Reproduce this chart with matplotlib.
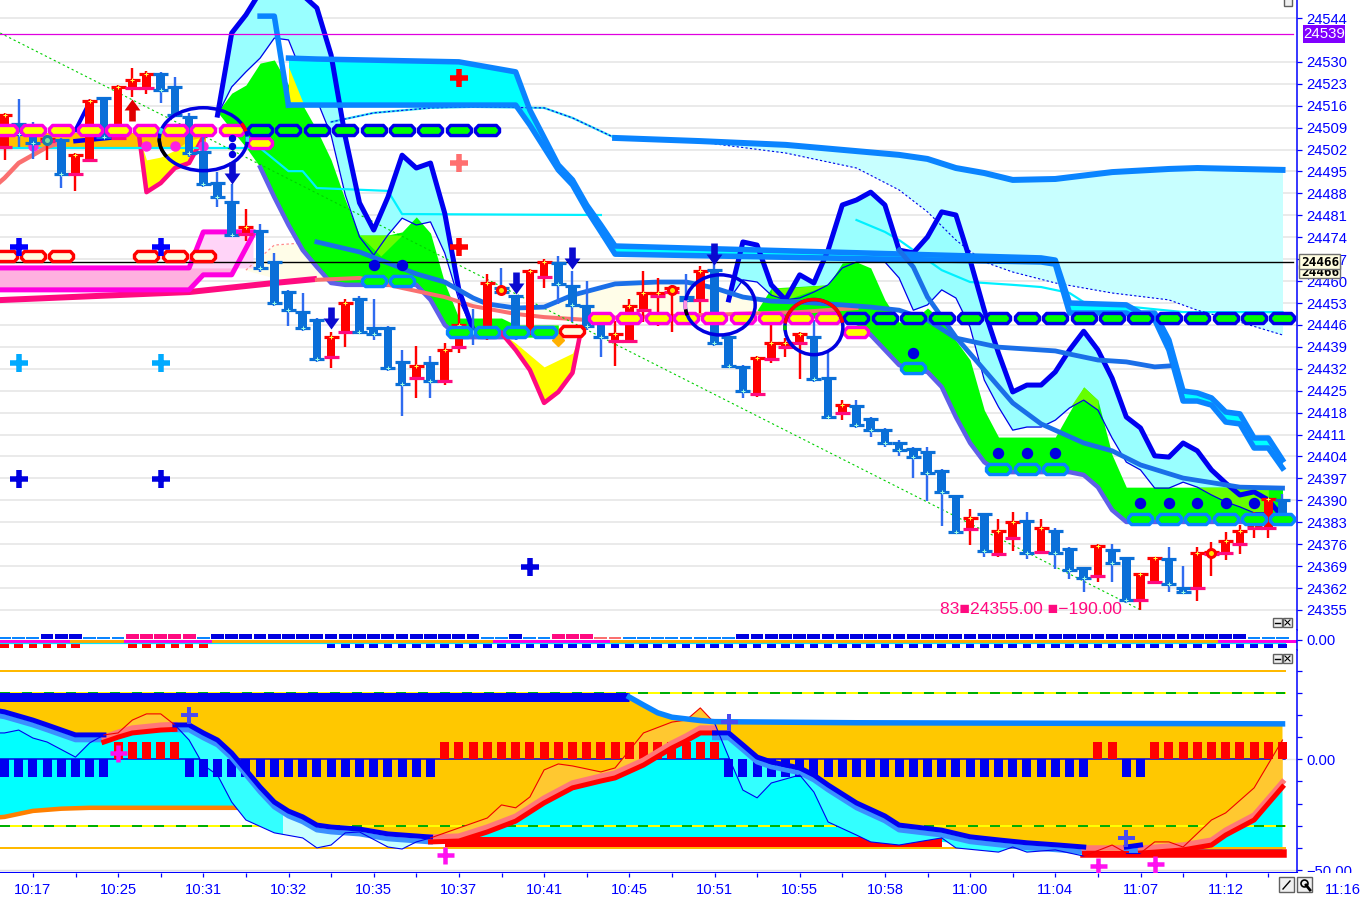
import numpy as np
import matplotlib
matplotlib.use("Agg")
import matplotlib.pyplot as plt
from matplotlib.path import Path
from matplotlib.patches import Ellipse, Rectangle, Arc

# ---------------- data ----------------
BODY_TOP = [24513.1,24510.2,24508.3,24505.4,24505.1,24500.3,24517.6,24518.5,24522.0,24524.3,24526.2,24526.2,24522.0,24512.4,24501.3,24491.4,24485.3,24477.3,24476.0,24466.1,24456.6,24450.2,24447.6,24442.2,24453.1,24454.3,24445.1,24445.1,24434.2,24432.9,24433.9,24438.0,24446.0,24444.8,24459.4,24457.8,24455.3,24463.3,24466.1,24465.8,24458.5,24452.1,24447.9,24443.2,24452.1,24456.2,24456.2,24457.8,24455.0,24463.3,24463.6,24442.2,24432.6,24435.5,24440.3,24440.3,24443.2,24442.2,24429.1,24420.5,24420.2,24416.0,24412.5,24408.3,24406.4,24405.4,24399.4,24391.4,24384.4,24385.7,24380.2,24383.1,24383.4,24381.2,24380.2,24374.5,24368.4,24375.4,24374.2,24371.6,24366.5,24371.6,24371.3,24362.1,24373.2,24373.5,24377.0,24380.2,24382.1,24390.5,24390.2]
BODY_BOT = [24502.9,24507.0,24504.1,24504.8,24494.2,24494.2,24498.7,24506.1,24505.7,24521.7,24521.7,24521.1,24513.1,24500.9,24491.0,24486.9,24474.8,24475.1,24464.2,24453.1,24450.8,24445.1,24435.2,24435.8,24443.8,24443.8,24443.2,24432.3,24427.2,24429.1,24428.1,24428.1,24439.0,24443.8,24442.2,24456.6,24445.1,24443.8,24461.4,24459.1,24452.4,24445.7,24442.2,24440.9,24440.9,24450.8,24455.3,24456.6,24454.0,24454.0,24440.3,24432.9,24424.9,24424.0,24435.2,24439.0,24440.3,24428.8,24416.7,24417.9,24414.1,24412.5,24408.3,24406.1,24403.9,24398.7,24392.7,24379.9,24380.9,24373.8,24372.9,24378.0,24373.2,24373.5,24373.2,24367.8,24365.2,24365.9,24370.0,24358.2,24358.2,24364.0,24363.3,24360.8,24362.1,24372.9,24373.2,24376.1,24381.2,24381.2,24384.7]
WICK_TOP = [24513.7,24518.2,24510.8,24506.7,24505.7,24500.9,24518.2,24518.8,24522.7,24528.1,24527.1,24526.8,24525.2,24513.7,24506.7,24494.9,24491.0,24483.1,24478.3,24469.0,24457.2,24456.2,24448.3,24443.8,24454.3,24455.3,24454.3,24445.7,24438.0,24439.3,24436.1,24440.3,24453.1,24451.1,24462.3,24464.2,24455.3,24463.9,24467.1,24468.1,24463.3,24460.1,24448.6,24447.3,24454.3,24463.3,24461.0,24458.8,24462.3,24464.9,24471.6,24442.8,24433.3,24436.1,24447.3,24441.9,24443.8,24447.6,24437.7,24422.1,24422.1,24416.7,24413.1,24409.3,24407.1,24407.1,24400.0,24391.7,24387.3,24386.0,24384.0,24386.3,24386.3,24384.0,24381.2,24375.1,24368.8,24376.0,24376.0,24371.9,24366.8,24371.9,24375.1,24369.0,24375.1,24376.7,24379.9,24382.1,24386.3,24390.8,24392.0]
WICK_BOT = [24498.7,24502.9,24499.0,24498.7,24489.8,24488.8,24498.1,24505.7,24505.4,24518.8,24519.8,24516.9,24512.4,24499.7,24490.1,24483.7,24474.1,24472.8,24462.9,24452.1,24445.7,24444.1,24434.2,24432.3,24439.0,24443.2,24441.2,24431.3,24417.0,24422.7,24422.7,24426.9,24437.1,24439.6,24441.2,24455.6,24441.2,24442.8,24457.8,24452.7,24447.0,24444.4,24435.8,24432.9,24440.3,24447.0,24445.7,24443.8,24450.2,24449.8,24439.3,24432.3,24422.7,24423.0,24433.9,24435.8,24428.8,24427.8,24416.3,24415.7,24413.1,24410.2,24407.1,24404.2,24397.1,24389.8,24381.8,24379.3,24375.8,24371.9,24371.9,24373.8,24371.3,24372.9,24368.1,24364.9,24360.8,24364.0,24364.0,24357.2,24355.0,24363.3,24360.8,24360.1,24357.9,24365.9,24371.0,24372.9,24378.0,24378.0,24382.8]
RED_BARS = [0,3,5,6,8,9,10,17,23,24,29,31,32,34,37,38,43,44,45,46,47,49,53,54,55,56,59,68,70,71,73,77,80,81,84,85,86,87,88,89]
RING_BARS = [3,35,47,85]
RING_PRICE = [24505.1,24457.2,24457.2,24373.2]
PRICE_TICKS = [24355,24362,24369,24376,24383,24390,24397,24404,24411,24418,24425,24432,24439,24446,24453,24460,24467,24474,24481,24488,24495,24502,24509,24516,24523,24530,24544]

CLOUD1_BARS = [15,16,17,18,19,20,21,22,23,24,25,26,27,28,29,30,31,32,33]
CLOUD1_HI = [24513.0,24539.2,24545.0,24552.3,24557.7,24559.3,24551.3,24547.2,24532.2,24506.0,24485.0,24476.3,24486.8,24500.2,24496.1,24497.7,24481.7,24457.2,24444.4]
CLOUD1_LO = [24513.0,24522.0,24526.8,24531.2,24537.6,24537.0,24525.8,24517.8,24506.6,24487.5,24474.1,24468.3,24474.7,24480.1,24477.9,24478.9,24469.0,24454.0,24444.4]
CLOUD2_BARS = list(range(51,91))
CLOUD2_HI = [24454.0,24472.5,24471.5,24458.8,24454.0,24462.0,24459.4,24469.9,24484.3,24485.9,24488.4,24484.3,24469.9,24469.0,24474.1,24482.1,24481.1,24466.7,24450.7,24437.0,24424.6,24426.8,24426.8,24431.0,24438.0,24444.0,24438.0,24429.0,24416.6,24413.1,24404.2,24403.8,24408.3,24405.8,24399.7,24395.5,24391.7,24392.7,24390.1,24384.7]
CLOUD2_LO = [24454.0,24460.4,24459.7,24455.5,24454.0,24454.6,24456.5,24458.8,24464.2,24466.1,24466.1,24466.1,24461.0,24450.7,24452.4,24457.2,24454.6,24445.3,24428.4,24419.8,24412.4,24413.4,24413.4,24415.6,24419.5,24422.0,24418.8,24409.9,24402.2,24399.7,24393.9,24393.9,24395.8,24394.2,24391.7,24389.5,24387.9,24386.0,24386.0,24384.7]

GREEN1_BARS = [15,16,17,18,19,20,21,22,23,24,25,26,27,28,29,30,31,32,33,35,36,39]
GREEN1_HI = [24514.0,24520.0,24522.6,24529.6,24530.6,24522.6,24516.2,24508.2,24498.7,24485.9,24474.7,24474.7,24474.7,24475.7,24480.5,24475.3,24459.4,24448.2,24448.2,24448.2,24446.0,24446.0]
GREEN1_LO = [24514.0,24508.2,24502.8,24496.4,24486.8,24477.9,24469.9,24464.5,24459.4,24458.8,24458.8,24458.8,24458.8,24458.8,24458.8,24454.0,24446.0,24442.1,24442.1,24442.1,24442.1,24442.1]
GREEN2_BARS = [53,54,58,59,60,61,62,63,64,65,66,67,68,69,70,74,75,76,77,78,79,90]
GREEN2_HI = [24450.7,24457.8,24458.8,24465.8,24466.1,24464.2,24454.0,24446.9,24447.6,24451.4,24447.6,24441.0,24434.8,24418.8,24410.2,24410.2,24418.2,24426.2,24422.0,24404.5,24394.2,24394.2]
GREEN2_LO = [24450.7,24448.2,24448.2,24447.6,24446.0,24442.8,24438.0,24433.2,24431.6,24431.0,24426.2,24416.6,24408.3,24402.2,24399.0,24399.0,24399.0,24398.1,24394.2,24386.9,24383.1,24383.1]

BAND_UP_BARS = [18,19,20,22,32,34,36,37,39,40,41,42,43,73,74,75,79,80,81,82,83,84,85,86,87,88,89,90]
BAND_UP = [24544.6,24544.6,24531.2,24530.9,24530.0,24528.4,24526.8,24514.6,24497.1,24492.3,24484.3,24477.9,24471.2,24467.4,24466.7,24453.0,24452.4,24449.8,24449.8,24441.2,24424.9,24424.3,24422.7,24418.2,24417.6,24409.9,24409.9,24402.9]
BAND_LO = [24544.6,24544.6,24516.2,24516.2,24516.2,24516.2,24516.2,24509.8,24495.5,24490.7,24482.7,24475.7,24468.6,24466.1,24465.4,24449.8,24449.8,24447.6,24447.6,24438.0,24421.7,24421.7,24420.4,24415.0,24414.4,24406.7,24406.7,24400.3]

MA1_BARS = [22,25,27,29,31,33,34,36,38,40,43,46,48,50,52,54,56,59,61,63,65,67,70,74,75,77,79,81,82]
MA1 = [24472.5,24469.3,24465.8,24462.3,24459.7,24454.6,24452.7,24451.4,24451.7,24455.5,24459.1,24459.7,24459.7,24457.8,24454.9,24453.6,24453.3,24452.4,24451.7,24450.7,24447.6,24441.8,24438.9,24437.7,24436.7,24434.8,24434.2,24432.6,24432.9]
MA2_BARS = [63,64,65,67,69,71,73,76,78,80,83,87,90]
MA2 = [24469.9,24464.5,24454.9,24442.1,24431.6,24421.1,24414.4,24408.3,24405.8,24401.3,24397.1,24394.2,24393.9]
SALMON_A_BARS = [-1,0,1,3,4]
SALMON_A = [24489.0,24492.9,24497.7,24502.8,24504.4]
SALMON_B_BARS = [22,25,28,31,33,36,38,41,42,56,60]
SALMON_B = [24460.4,24461.0,24457.8,24454.9,24452.0,24449.5,24448.5,24447.6,24448.2,24450.1,24451.4]
HOTPINK_BARS = [-1,13,19,22]
HOTPINK = [24453.8,24456.5,24459.4,24460.7]
MAG_BARS = [-1,13,14,16,17.5]
MAG_HI = [24464.2,24464.2,24475.7,24475.7,24475.7]
MAG_LO = [24457.2,24457.2,24462.0,24462.0,24474.7]
PALE_MAG_BARS = [13,14,17.5]
PALE_MAG_HI = [24464.2,24475.7,24475.7]
PALE_MAG_LO = [24464.2,24464.2,24464.2]
CYAN_A_BARS = [-1,18,20,21,22,27,28,42]
CYAN_A = [24502.5,24502.5,24495.1,24495.1,24489.7,24488.8,24481.4,24481.1]
CYAN_B_BARS = [60,62,63,66,68,71,73,75,76,83,90]
CYAN_B = [24479.5,24475.7,24473.1,24463.5,24459.7,24458.8,24458.1,24456.2,24453.3,24450.1,24450.1]
DOT_BARS = [23,26,30,33,38,40,43,49,55,60,63,65,67,69,71,74,78,82,84,87,90]
DOT_LINE = [24510.8,24513.7,24515.3,24515.6,24515.3,24512.1,24505.7,24504.4,24500.9,24496.1,24489.1,24482.1,24473.1,24466.1,24462.9,24459.4,24456.2,24454.0,24450.7,24446.9,24442.8]
TOP_BARS = [43,49,55,60,63,65,67,69,71,74,78,82,84,87,90]
TOP_LINE = [24505.7,24504.7,24503.5,24501.5,24500.3,24499.0,24496.1,24494.5,24492.3,24492.6,24494.8,24495.8,24496.1,24495.8,24495.5]
TREND_BARS = [-0.3,80]
TREND = [24539.2,24355.0]
IVORY1_BARS = [17,19,22,24]
IVORY1_HI = [24463.5,24471.5,24472.5,24462.0]
IVORY1_LO = [24463.5,24461.0,24460.4,24460.4]
IVORY2_BARS = [33,36,38,40,43,46,48,50,52,54,56,58]
IVORY2_HI = [24454.6,24451.4,24451.7,24455.5,24459.1,24459.7,24459.7,24457.8,24454.9,24453.6,24453.3,24452.6]
IVORY2_LO = [24454.0,24449.5,24448.5,24447.6,24447.6,24447.6,24447.8,24448.0,24448.2,24449.0,24450.1,24450.5]
YEL1_BARS = [9.5,10,11,12,13,14]
YEL1_HI = [24505.7,24498.7,24499.6,24501.8,24505.0,24506.0]
YEL1_LO = [24505.7,24488.4,24491.3,24496.1,24497.7,24506.0]
YEL2_BARS = [35,36,37,38,39,40,40.5]
YEL2_HI = [24443.4,24440.2,24436.4,24432.6,24434.8,24437.0,24442.1]
YEL2_LO = [24443.4,24438.0,24431.6,24421.1,24424.6,24430.7,24442.1]
YEL3_BARS = [20,21]
YEL3_HI = [24528.4,24517.2]
YEL3_LO = [24517.2,24517.2]
LIME_A_BARS = [25,26.5,28]
LIME_A_HI = [24474.7,24474.7,24474.7]
LIME_A_LO = [24474.7,24468.0,24474.7]
LIME_B_BARS = [54,55,58]
LIME_B_HI = [24457.8,24457.8,24458.8]
LIME_B_LO = [24455.5,24454.0,24458.8]
LIME_C_BARS = [75,76,77]
LIME_C_HI = [24419.5,24426.2,24422.0]
LIME_C_LO = [24419.5,24422.0,24418.8]
LIME_D_BARS = [84,85,87,88,89]
LIME_D_HI = [24394.2,24394.2,24394.2,24394.2,24394.2]
LIME_D_LO = [24394.2,24391.7,24387.9,24386.0,24386.0]

PILL_YM_BARS = [0,2,4,6,8,10,12,14,16,18,42,44,46,48,50,52,54,56,58,60]
PILL_YM_PRICE = [24508.2,24508.2,24508.2,24508.2,24508.2,24508.2,24508.2,24508.2,24508.2,24504.1,24448.2,24448.2,24448.2,24448.2,24448.2,24448.2,24448.2,24448.2,24448.2,24443.7]
PILL_DG_BARS = [18,20,22,24,26,28,30,32,34,60,62,64,66,68,70,72,74,76,78,80,82,84,86,88,90]
PILL_DG_PRICE = [24508.2]*9 + [24448.2]*16
PILL_LG_BARS = [26,28,32,34,36,38,64,70,72,74,80,82,84,86,88,90]
PILL_LG_PRICE = [24460.0,24460.0,24443.7,24443.7,24443.7,24443.7,24432.2,24400.0,24400.0,24400.0,24384.0,24384.0,24384.0,24384.0,24384.0,24384.0]
PILL_RI_BARS = [0,2,4,10,12,14,40]
PILL_RI_PRICE = [24468.0,24468.0,24468.0,24468.0,24468.0,24468.0,24444.0]
DOT_BL_BARS = [26,28,64,70,72,74,80,82,84,86,88]
DOT_BL_PRICE = [24465.1,24465.1,24437.0,24405.1,24405.1,24405.1,24389.1,24389.1,24389.1,24389.1,24389.1]
DOT_SM_BARS = [16,16,16]
DOT_SM_PRICE = [24505.7,24503.1,24500.6]
DOT_MG_BARS = [2,10,12,14]
DOT_MG_PRICE = [24503.1,24503.1,24503.1,24503.1]
ARROW_DN_BARS = [16,23,36,40,50]
ARROW_DN_PRICE = [24494.5,24448.2,24459.4,24467.4,24468.6]
PLUS = [(1,24470.9,'#0000ff'),(11,24470.9,'#0000ff'),(1,24433.8,'#00aaff'),(11,24433.8,'#00aaff'),
        (1,24396.8,'#0000e0'),(11,24396.8,'#0000e0'),(37,24368.7,'#0000e0'),
        (32,24524.8,'#ff0000'),(32,24497.7,'#ff7070'),(32,24470.9,'#ff0000')]

# indicator panel 1 (colour strip), one entry per bar
STRIP_DARK = [3,4,5]+list(range(15,34))+[36]+list(range(52,88))
STRIP_LIGHT = [0,1,2,6,7,8,14,34,35,37,38]+list(range(44,52))+[88,89,90]
STRIP_PINK = [9,10,11,12,13,39,40,41]
STRIP_SALMON = [42,43]
DASH_RED = [0,1,2,3,4,5,9,10,11,12,13,14]
DASH_BLUE = list(range(23,91))
MID_MAGENTA = [(-1,4.5),(8.5,14.5),(34.5,42.5),(85.5,91)]

# indicator panel 2
HIST = [-8]*8+[8]*5+[-8]*18+[8]*20+[-8]*26+[8]*2+[-8]*2+[8]*10
HIST_TICKS = [-50,-40,-30,-20,-10,0,10,20,30,40]
HTOP_BARS = [-1,44,45,46,47,49,50,60,90]
HTOP = [28.1,28.1,24.5,21.0,19.0,17.5,17.0,16.5,16.0]
K_PIECES = [
 ('b',[-1,0,2,3,5,7],[22.5,21.4,17.7,15.5,11.0,11.0],[-1,0,1,2,3,5,6,7],[11.9,11.9,13.2,9.6,7.8,1.0,7.4,11.0]),
 ('r',[7,8,9,11,12],[7.8,10.0,11.9,13.2,13.5],[7,8,9,10,11,12],[11.0,11.9,17.7,20.5,20.5,15.5]),
 ('b',[12,13,14,15,16,17,18,19,20,21,22,23,25,27,30],[15.5,15.5,11.9,8.7,2.8,-4.8,-12.5,-19.3,-23.4,-26.0,-29.7,-30.6,-31.5,-33.7,-35.1],[12,13,14,15,16,17,19,21,22,23,24,25,27,28,29,30],[15.5,8.7,-2.6,-7.1,-19.3,-27.4,-33.2,-35.5,-40.0,-38.7,-33.2,-32.8,-39.6,-40.5,-37.3,-35.5]),
 ('r',[30,32,34,36,38,40,42,43,45,47,48,49,50],[-37.3,-36.9,-32.8,-27.9,-19.7,-12.9,-9.8,-8.4,-2.6,5.1,8.3,11.9,11.9],[30,32,34,35,36,37,38,39,40,42,43,45,47,48,49,50],[-35.5,-31.0,-26.5,-20.6,-21.9,-17.0,-4.8,-2.1,-3.0,-5.7,-3.9,11.9,16.8,17.7,23.2,16.4]),
 ('b',[50,51,52,53,54,56,57,58,60,62,63,66,68,70,72,74,76],[11.9,11.9,6.5,1.0,-1.2,-3.9,-7.1,-11.6,-19.7,-25.6,-29.7,-32.0,-35.0,-36.4,-37.7,-38.6,-39.6],[50,51,52,53,54,56,57,58,60,61,63,66,67,70,71,72,74,76],[16.4,1.0,-13.9,-17.4,-10.7,-7.1,-14.8,-28.3,-34.2,-37.3,-38.7,-35.5,-40.0,-41.9,-39.6,-41.9,-40.9,-43.7]),
 ('r',[76,78,79],[-42.3,-42.3,-42.3],[76,78,79],[-43.7,-38.7,-42.3]),
 ('b',[79,80],[-39.6,-38.7],[79,80],[-42.3,-42.3]),
 ('r',[80,81,83,85,86,88,90],[-42.3,-41.9,-40.9,-38.7,-34.2,-27.4,-12.5],[80,81,82,83,85,86,88,90],[-42.3,-37.3,-37.3,-39.6,-27.4,-24.2,-12.9,8.7]),
]
HLOW_BARS = [-1,0,2,4,6,19,20,22,30,66,76,90]
HLOW = [-26.5,-26.0,-23.3,-22.3,-21.9,-21.9,-25.1,-29.7,-37.3,-37.3,-42.3,-42.3]
ORANGE_BARS = [-1,0,2,4,6,19,20]
ORANGE_VAL = [-26.5,-26.0,-23.3,-22.3,-21.9,-21.9,-25.1]
HPLUS_BLUE = [(13,20.0),(51,16.8),(79,-35.5)]
HPLUS_MAG = [(8,2.8),(31,-43.2),(77,-48.2),(81,-47.3)]
TIME_BARS = [2,8,14,20,26,32,38,44,50,56,62,68,74,80,86]
TIME_LABELS = ['10:17','10:25','10:31','10:32','10:35','10:37','10:41','10:45','10:51','10:55','10:58','11:00','11:04','11:07','11:12']

# ---------------- layout ----------------
W, H = 1369, 902
PX = 0.72
C_BLUE = '#0a6fd8'; C_BAND = '#0a84ff'; C_DARK = '#0000f0'; C_MA = '#1a6fe8'; C_PINK = '#ff0a80'
FONT = ['Liberation Sans', 'DejaVu Sans']
plt.rcParams['font.family'] = FONT
fig = plt.figure(figsize=(W/100, H/100), dpi=100, facecolor='white')

def axpx(x0, y0, x1, y1, **kw):
    return fig.add_axes([x0/W, 1-y1/H, (x1-x0)/W, (y1-y0)/H], **kw)

BAR_X0, BAR_DX = 4.5, 14.2
XLIM = (-BAR_X0/BAR_DX, (1297-BAR_X0)/BAR_DX)

def style_right(ax):
    for s in ('top', 'left', 'bottom'):
        ax.spines[s].set_visible(False)
    ax.spines['right'].set_color('#0000ff')
    ax.spines['right'].set_linewidth(1.1)
    ax.yaxis.tick_right()
    ax.tick_params(axis='y', colors='#0000ff', labelcolor='#0000ff', length=5*PX, width=0.9, pad=3, labelsize=10.6)
    ax.set_xticks([])
    ax.set_xlim(*XLIM)

# ---------- main price panel ----------
ax = axpx(0, 0, 1297, 630)
style_right(ax)
ax.set_ylim(24549.75-0.3193*630, 24549.75)
ax.set_yticks(PRICE_TICKS)
ax.set_yticklabels([str(t) for t in PRICE_TICKS])
ax.hlines(PRICE_TICKS, XLIM[0], XLIM[1], color='#e8e8e8', lw=1.3, zorder=1)

def band(bars, hi, lo, color, z, **kw):
    ax.fill_between(bars, hi, lo, color=color, lw=0, zorder=z, **kw)

band(TOP_BARS, TOP_LINE, DOT_LINE[6:], '#c8ffff', 2)
band(IVORY1_BARS, IVORY1_HI, IVORY1_LO, '#fffde8', 2)
band(IVORY2_BARS, IVORY2_HI, IVORY2_LO, '#fffde8', 2)
ax.plot(IVORY1_BARS[:3], IVORY1_HI[:3], color='#ff8a8a', lw=0.9, ls=(0,(2,2)), zorder=2.1)
band(MAG_BARS, MAG_HI, MAG_LO, '#ffb0e0', 2)
band(PALE_MAG_BARS, PALE_MAG_HI, PALE_MAG_LO, '#ffd4f8', 2.05)
ax.plot(HOTPINK_BARS, HOTPINK, color=C_PINK, lw=6*PX, zorder=3, solid_capstyle='butt')
ax.plot(MAG_BARS, MAG_HI, color='#ff00e0', lw=5*PX, zorder=3.1)
ax.plot(MAG_BARS, MAG_LO, color='#ff00e0', lw=5*PX, zorder=3.1)
ax.add_patch(Rectangle((-1, 24502.8), 15.2, 4.5, color='#ffc000', lw=0, zorder=2.5))

band(CLOUD1_BARS, CLOUD1_HI, CLOUD1_LO, '#99ffff', 3)
band(CLOUD2_BARS, CLOUD2_HI, CLOUD2_LO, '#99ffff', 3)
band(GREEN1_BARS, GREEN1_HI, GREEN1_LO, '#00ff00', 4)
band(GREEN2_BARS, GREEN2_HI, GREEN2_LO, '#00ff00', 4)
for b, h, l in [(LIME_A_BARS,LIME_A_HI,LIME_A_LO),(LIME_B_BARS,LIME_B_HI,LIME_B_LO),(LIME_C_BARS,LIME_C_HI,LIME_C_LO),(LIME_D_BARS,LIME_D_HI,LIME_D_LO)]:
    band(b, h, l, '#66ff00', 4.2)
ax.plot(GREEN1_BARS[3:21], GREEN1_LO[3:21], color='#5f5fe8', lw=4.5*PX, zorder=4.3)
ax.plot(GREEN2_BARS[5:], GREEN2_LO[5:], color='#5f5fe8', lw=4.5*PX, zorder=4.3)
ax.plot(CLOUD1_BARS, CLOUD1_LO, color='#0000e8', lw=0.9, zorder=4.4)
ax.plot(CLOUD2_BARS, CLOUD2_LO, color='#0000e8', lw=0.9, zorder=4.4)
band(YEL1_BARS, YEL1_HI, YEL1_LO, '#ffff00', 4.5)
ax.plot(YEL1_BARS, YEL1_LO, color=C_PINK, lw=4.5*PX, zorder=4.6)
band(YEL2_BARS, YEL2_HI, YEL2_LO, '#ffff00', 4.5)
ax.plot(YEL2_BARS, YEL2_LO, color=C_PINK, lw=4.5*PX, zorder=4.6)
ax.plot([39], [24441.1], ls='', marker='D', ms=9*PX, color='#ffb000', zorder=4.7)

ax.fill_between(BAND_UP_BARS[2:], BAND_UP[2:], BAND_LO[2:], color='#00ffff', lw=0, zorder=5)
band(YEL3_BARS, YEL3_HI, YEL3_LO, '#ffff00', 5.1)
ax.plot(CYAN_A_BARS, CYAN_A, color='#00f0ff', lw=2.2*PX, zorder=5.2)
ax.plot(CYAN_B_BARS, CYAN_B, color='#00f0ff', lw=2.2*PX, zorder=5.2)
ax.plot(DOT_BARS[:7], DOT_LINE[:7], color='#30e0f0', lw=2.2*PX, zorder=5.2)
ax.plot(DOT_BARS, DOT_LINE, color='#0000e8', lw=0.8, ls=(0,(2,2)), zorder=5.3)
ax.plot(SALMON_A_BARS, SALMON_A, color='#fa7070', lw=4.5*PX, zorder=5.4)
ax.plot(SALMON_B_BARS, SALMON_B, color='#fa7070', lw=4*PX, zorder=5.4)
ax.plot(TREND_BARS, TREND, color='#00d000', lw=0.8, ls=(0,(2,2.5)), zorder=5.5)

ax.plot(CLOUD1_BARS, CLOUD1_HI, color=C_DARK, lw=5*PX, zorder=6)
ax.plot(CLOUD2_BARS, CLOUD2_HI, color=C_DARK, lw=5*PX, zorder=6)
ax.plot([5,6], [24508.2,24517.2], color=C_DARK, lw=4*PX, zorder=6)
ax.plot([5,8], [24504.7,24506.0], color=C_DARK, lw=4.5*PX, zorder=6)
ax.plot(BAND_UP_BARS[:3], [BAND_UP[0], BAND_UP[1], BAND_LO[2]], color=C_BAND, lw=5.5*PX, zorder=6.2)
ax.plot(BAND_UP_BARS[2:], BAND_UP[2:], color=C_BAND, lw=5.5*PX, zorder=6.2)
ax.plot(BAND_UP_BARS[2:], BAND_LO[2:], color=C_BAND, lw=5.5*PX, zorder=6.2)
ax.plot(TOP_BARS, TOP_LINE, color=C_BAND, lw=6*PX, zorder=6.2)
ax.plot(MA1_BARS, MA1, color=C_MA, lw=4.8*PX, zorder=6.3)
ax.plot(MA2_BARS, MA2, color=C_MA, lw=4.8*PX, zorder=6.3)

ax.axhline(24539.05, xmax=1293/1297, color='#e000e0', lw=0.9, zorder=6.5)
ax.axhline(24466.0, xmax=1293/1297, color='#000000', lw=1.0, zorder=6.5)

# candles
n = len(BODY_TOP)
bars = np.arange(n)
is_red = np.isin(bars, RED_BARS)
face = np.where(is_red, '#ff0000', C_BLUE)
wick = np.where(is_red, '#ff0000', '#2f6bf0')
capb = np.where(is_red, C_PINK, C_BLUE)
ax.vlines(bars, WICK_BOT, WICK_TOP, colors=wick, lw=2.4*PX, zorder=7)
ax.bar(bars, np.array(BODY_TOP)-np.array(BODY_BOT), bottom=BODY_BOT, width=8.5/BAR_DX, color=face, lw=0, zorder=7.1)
cw = 7.5/BAR_DX
ax.hlines(BODY_TOP, bars-cw, bars+cw, colors=face, lw=3.2*PX, zorder=7.2)
ax.hlines(BODY_BOT, bars-cw, bars+cw, colors=capb, lw=3.2*PX, zorder=7.2)
ax.plot(bars[is_red], np.array(BODY_TOP)[is_red], ls='', marker='+', ms=5*PX, mew=1*PX, color='#ffff40', zorder=7.3)
ax.plot(bars[~is_red], np.array(BODY_BOT)[~is_red], ls='', marker='+', ms=5*PX, mew=1*PX, color='#a0ffe0', zorder=7.3)

# capsule markers
pill = Path([(-1,-.14),(-1,.14),(-.74,.42),(.74,.42),(1,.14),(1,-.14),(.74,-.42),(-.74,-.42),(-1,-.14)], closed=True)
def pills(bs, ps, fc, ec):
    ax.plot(bs, ps, ls='', marker=pill, ms=24*PX, mfc=fc, mec=ec, mew=3.4*PX, zorder=8)
pills(PILL_YM_BARS, PILL_YM_PRICE, '#ffff00', '#ff00e0')
pills(PILL_DG_BARS, PILL_DG_PRICE, '#00ff00', '#0000e8')
pills(PILL_LG_BARS, PILL_LG_PRICE, '#00ff00', '#0a84ff')
pills(PILL_RI_BARS, PILL_RI_PRICE, '#fffde0', '#ff0000')

ax.plot(DOT_BL_BARS, DOT_BL_PRICE, ls='', marker='o', ms=10*PX, color='#0000e0', zorder=8.1)
ax.plot(DOT_SM_BARS, DOT_SM_PRICE, ls='', marker='o', ms=6*PX, color='#0000e0', zorder=8.1)
ax.plot(DOT_MG_BARS, DOT_MG_PRICE, ls='', marker='o', ms=9*PX, color='#ff20e0', zorder=6.9)
for b, p, fc, ec in zip(RING_BARS, RING_PRICE, ['#80e0a0','#ffe000','#ffe000','#ffe000'], ['#1c7fa8','#ff0000','#ff0000','#ff0000']):
    ax.plot([b], [p], ls='', marker='o', ms=8*PX, mfc=fc, mec=ec, mew=3*PX, zorder=8.2)

for bx, py, wd, ht in [(14,24505.3,6.2,20.1),(50.4,24452.4,4.93,19.2),(57,24445.3,4.08,17.6)]:
    ax.add_patch(Ellipse((bx,py), wd, ht, fill=False, ec='#0000e0', lw=3.5*PX, zorder=8.3))
for bx, py, wd, ht, t0, t1, c in [(14,24505.3,6.2,20.1,175,245,'#000000'),(14,24505.3,6.2,20.1,130,150,'#30e0f0'),(14,24505.3,6.2,20.1,40,62,'#ff0000'),(14,24505.3,6.2,20.1,345,375,'#30e0f0'),
                                  (50.4,24452.4,4.93,19.2,150,215,'#ff90e0'),(50.4,24452.4,4.93,19.2,210,235,'#000000'),(57,24445.3,4.08,17.6,35,150,'#ff0000'),(57,24445.3,4.08,17.6,165,205,'#00c000')]:
    ax.add_patch(Arc((bx,py), wd, ht, theta1=t0, theta2=t1, ec=c, lw=3.5*PX, zorder=8.35))

arrow_dn = Path([(-.3,1),(.3,1),(.3,0),(.72,0),(0,-1),(-.72,0),(-.3,0),(-.3,1)], closed=True)
arrow_up = Path([(-.3,-1),(.3,-1),(.3,0),(.72,0),(0,1),(-.72,0),(-.3,0),(-.3,-1)], closed=True)
ax.plot(ARROW_DN_BARS, ARROW_DN_PRICE, ls='', marker=arrow_dn, ms=22*PX, mew=0, color='#0a0ad0', zorder=8.4)
ax.plot([9], [24514.6], ls='', marker=arrow_up, ms=22*PX, mew=0, color='#e00000', zorder=8.4)
for b, p, c in PLUS:
    ax.plot([b], [p], ls='', marker='+', ms=18*PX, mew=5.5*PX, color=c, zorder=8.5)

ax.text(65.9, 24355.0, '83\u25a024355.00 \u25a0\u2212190.00', color=C_PINK, fontsize=12.6, ha='left', va='center',
        family=FONT, zorder=9)

# ---------- colour strip panel ----------
ax2 = axpx(0, 630, 1297, 650)
style_right(ax2)
ax2.set_ylim(-1.02, 0.98)
ax2.set_yticks([0]); ax2.set_yticklabels(['0.00'])
bw = 12.8/BAR_DX
ax2.bar(STRIP_DARK, 0.50, bottom=0.08, width=bw, color='#0000e0', lw=0)
ax2.bar(STRIP_LIGHT, 0.25, bottom=0.08, width=bw, color=C_BAND, lw=0)
ax2.bar(STRIP_PINK, 0.50, bottom=0.08, width=bw, color=C_PINK, lw=0)
ax2.bar(STRIP_SALMON, 0.25, bottom=0.08, width=bw, color='#fa7070', lw=0)
ax2.axhline(-0.13, xmax=1285/1297, color='#ffa800', lw=3*PX)
for a, b in MID_MAGENTA:
    ax2.plot([a, b], [-0.13, -0.13], color='#ff00e0', lw=3*PX)
ax2.axhline(-0.34, xmax=1285/1297, color='#00e8ff', lw=1.2*PX)
dw = 8.5/BAR_DX
ax2.bar(DASH_RED, 0.34, bottom=-0.8, width=dw, color='#ff0000', lw=0)
ax2.bar(DASH_BLUE, 0.34, bottom=-0.8, width=dw, color='#0000f0', lw=0)

# ---------- oscillator panel ----------
ax3 = axpx(0, 650, 1297, 872)
style_right(ax3)
ax3.spines['bottom'].set_visible(True)
ax3.spines['bottom'].set_color('#0000ff')
ax3.set_ylim((759.3-872)/2.215, (759.3-650)/2.215)
ax3.set_yticks(HIST_TICKS)
ax3.set_yticklabels(['0.00' if t == 0 else ('\u221250.00' if t == -50 else '') for t in HIST_TICKS])
kx = np.concatenate([np.array(p[1], float) for p in K_PIECES])
ky = np.concatenate([np.array(p[2], float) for p in K_PIECES])
ax3.fill(np.r_[HTOP_BARS, kx[::-1]], np.r_[HTOP, ky[::-1]], color='#ffc800', lw=0, zorder=1)
ax3.fill(np.r_[kx, np.array(HLOW_BARS)[::-1]], np.r_[ky, np.array(HLOW)[::-1]], color='#00ffff', lw=0, zorder=1.1)
XEND = 1285/1297
ax3.axhline(-50, color='#e0e0e0', lw=1, zorder=0.5)
for v, c in [(40, '#ffb900'), (-40, '#ffb900')]:
    ax3.axhline(v, xmax=XEND, color=c, lw=2*PX, zorder=1.5)
for v in (30, -30):
    ax3.axhline(v, xmax=XEND, color='#ffff00', lw=2*PX, zorder=1.5)
    ax3.axhline(v, xmax=XEND, color='#00b000', lw=2*PX, ls=(0,(5,6)), zorder=1.6)
ax3.axhline(0, color='#e8e8e8', lw=1, zorder=0.5)
hbars = np.arange(len(HIST)); hv = np.array(HIST)
ax3.axhline(0, xmax=XEND, color='#0000e0', lw=1.5*PX, zorder=2)
hw = 9/BAR_DX
ax3.bar(hbars[hv > 0], hv[hv > 0], width=hw, color='#ff0000', lw=0, zorder=3.1)
ax3.bar(hbars[hv < 0], hv[hv < 0], width=hw, color='#0000f0', lw=0, zorder=3.1)
ax3.plot(ORANGE_BARS, ORANGE_VAL, color='#ff8000', lw=4.5*PX, zorder=2.5)
ax3.plot([31, 66], [-37.3, -37.3], color='#ff0000', lw=10*PX, solid_capstyle='butt', zorder=2.6)
ax3.plot([76, 90], [-42.2, -42.2], color='#ff0000', lw=8.5*PX, zorder=2.6)
for idx, (kind, kb, kv, tb, tv) in enumerate(K_PIECES):
    col_fill = '#33ffff' if kind == 'b' else '#ffc830'
    ax3.fill(np.r_[kb, tb[::-1]], np.r_[kv, tv[::-1]], color=col_fill, lw=0, zorder=3)
    if idx == 2:
        for poly in ax3.fill(np.r_[kb, tb[::-1]], np.r_[kv, tv[::-1]], color='#c8ffff', lw=0, zorder=3.02):
            poly.set_clip_path(Rectangle((19.6, -60), 11.4, 35.5, transform=ax3.transData))
    kv_a = np.array(kv)
    if kind == 'b':
        ax3.plot(kb, kv_a-2.2, color='#3b90ff', lw=5*PX, zorder=3.2)
        ax3.plot(kb, kv_a, color='#0000f0', lw=5*PX, zorder=3.3)
        ax3.plot(tb, tv, color='#0000f0', lw=0.8, zorder=3.4)
    else:
        ax3.plot(kb, kv_a+2.2, color='#ff7878', lw=5.5*PX, zorder=3.2)
        ax3.plot(kb, kv_a, color='#ff0000', lw=5*PX, zorder=3.3)
        ax3.plot(tb, tv, color='#f00000', lw=0.8, zorder=3.4)
ax3.plot(HTOP_BARS[:2], HTOP[:2], color='#0000f0', lw=9*PX, solid_capstyle='butt', zorder=3.6)
ax3.plot(HTOP_BARS[1:], HTOP[1:], color=C_BAND, lw=5.5*PX, zorder=3.6)
for b, v in HPLUS_BLUE:
    ax3.plot([b], [v], ls='', marker='+', ms=17*PX, mew=4*PX, color='#4a4af0', zorder=4)
for b, v in HPLUS_MAG:
    ax3.plot([b], [v], ls='', marker='+', ms=17*PX, mew=4.5*PX, color='#ff10f0', zorder=4)

# ---------- time axis ----------
ax4 = axpx(0, 872.5, W, H, zorder=5)
ax4.set_xlim(-BAR_X0/BAR_DX, (W-BAR_X0)/BAR_DX)
ax4.set_ylim(0, 1)
ax4.set_yticks([])
for s in ax4.spines.values():
    s.set_visible(False)
ax4.set_xticks(TIME_BARS + [94.25])
ax4.set_xticklabels(TIME_LABELS + ['11:16'], color='#0000ff', fontsize=10.6)
ax4.tick_params(axis='x', top=False, labeltop=False, bottom=False, labelbottom=True, pad=-17)
ax4.vlines(np.arange(2, 90, 3), 0.84, 1.0, color='#0000ff', lw=0.9)

# ---------- window controls and price tags ----------
ui = axpx(0, 0, W, H, zorder=6)
ui.set_xlim(0, W); ui.set_ylim(H, 0); ui.axis('off'); ui.patch.set_alpha(0)
for x0, y0, w, h in [(1273,618,9,9),(1283,618,9,9),(1273,654,9,9),(1283,654,9,9),(1284,-3,8,9),(1279,877,15,15),(1297,877,15,15)]:
    ui.add_patch(Rectangle((x0,y0), w, h, fc='#f0f0f0', ec='#606060', lw=1))
ui.plot([1275,1280],[622.5,622.5], color='k', lw=1); ui.plot([1275,1280],[658.5,658.5], color='k', lw=1)
ui.plot([1285,1290],[620,625], color='k', lw=0.8); ui.plot([1285,1290],[625,620], color='k', lw=0.8)
ui.plot([1285,1290],[656,661], color='k', lw=0.8); ui.plot([1285,1290],[661,656], color='k', lw=0.8)
ui.plot([1283,1290],[889,881], color='k', lw=1); ui.plot([1306,1310],[885,890], color='k', lw=2)
ui.plot([1303.5],[882.5], ls='', marker='o', ms=5, mfc='none', mec='k', mew=1.2)
ui.add_patch(Rectangle((1303,25), 42, 18, fc='#8000ff', ec='none'))
ui.text(1324, 34.5, '24539', color='white', fontsize=10.8, ha='center', va='center')
ui.add_patch(Rectangle((1299,265), 41, 13, fc='#fffde0', ec='#707070', lw=1))
ui.text(1320, 273, '24466', color='k', fontsize=9.2, fontweight='bold', family='DejaVu Sans Mono', ha='center', va='center')
ui.add_patch(Rectangle((1299,254), 41, 15, fc='#fffde0', ec='#707070', lw=1, zorder=3))
ui.text(1320, 262, '24466', color='k', fontsize=9.2, fontweight='bold', family='DejaVu Sans Mono', ha='center', va='center', zorder=4)

fig.savefig('out.png', dpi=100)
